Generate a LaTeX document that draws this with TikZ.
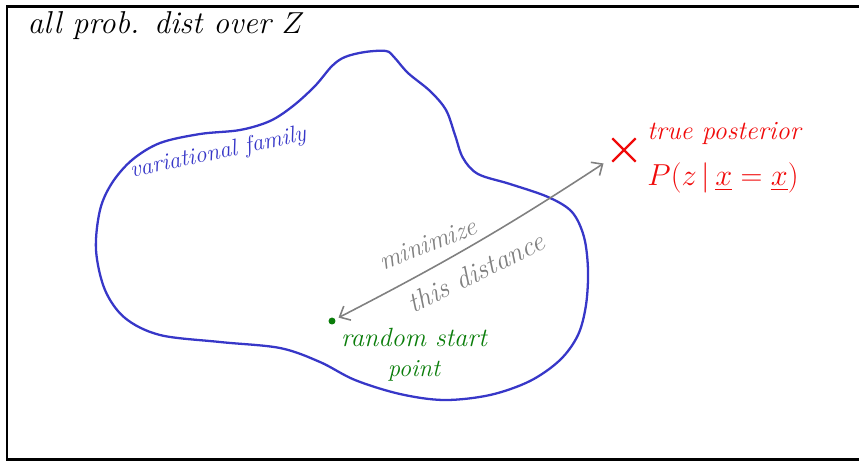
\documentclass[tikz,border=0pt]{standalone}
\usepackage{fontspec}
\usepackage{amsmath}
\usepackage{tikz}
\usetikzlibrary{arrows.meta, shapes.misc}
\definecolor{PenBlue}{RGB}{55,55,200}
\definecolor{PenRed}{RGB}{240,10,10}
\definecolor{PenGreen}{RGB}{10,125,10}
\definecolor{PenGrey}{RGB}{128,128,128}
\newcommand{\hand}[1]{\fontsize{#1}{#1}\selectfont\itshape}

\begin{document}
\begin{tikzpicture}[x=0.02cm, y=-0.02cm,
  label/.style={inner sep=0pt, anchor=center}]
\useasboundingbox (0,0) rectangle (859,461);

% Frame
\draw[line width=1.7pt] (859,6) -- (7,6) -- (7,459) -- (859,459);
\node[label] (title) at (166,26) {\hand{18}all prob. dist over $Z$};

% Family
\draw[PenBlue, line width=1.3pt] plot[smooth cycle, tension=0.55] coordinates {
  (365,52) (386,51) (394,57) (408,73) (430,91) (446,110) (455,135)
  (463,158) (478,174) (510,184) (548,197) (572,212) (584,237) (588,270)
  (586,305) (578,335) (560,360) (530,381) (490,395) (444,400) (400,394)
  (355,380) (320,362) (280,348) (220,342) (160,335) (125,318) (105,290)
  (96,250) (100,210) (112,183) (132,160) (160,143) (200,134) (240,130)
  (270,121) (293,106) (315,86) (332,66) (345,57)};
\node[label, PenBlue, rotate=12] (family) at (218,153) {\hand{13.5}variational family};

% Posterior
\node[cross out, draw=PenRed, line width=1.3pt, minimum size=12pt] (post) at (624,150) {};
\node[label, PenRed] (truepost) at (724,133) {\hand{15}true posterior};
\node[label, PenRed] (pzx) at (723,178) {\hand{18}$P(z\,|\,\underline{x}=\underline{x})$};

% Start point
\node[circle, fill=PenGreen, inner sep=1.4pt] (start) at (332,321) {};
\node[label, PenGreen] (random) at (414,337) {\hand{15}random start};
\node[label, PenGreen] (point) at (414,371) {\hand{14}point};

% Distance
\draw[PenGrey, line width=0.9pt, {Straight Barb[length=5pt, width=9pt]}-{Straight Barb[length=5pt, width=9pt]},
  shorten <=2pt, shorten >=6pt] (start) to[bend right=3] (post);
\node[label, PenGrey, rotate=21] (minim) at (428,244) {\hand{15}minimize};
\node[label, PenGrey, rotate=26] (thisdist) at (476,272) {\hand{16}this distance};
\end{tikzpicture}
\end{document}
